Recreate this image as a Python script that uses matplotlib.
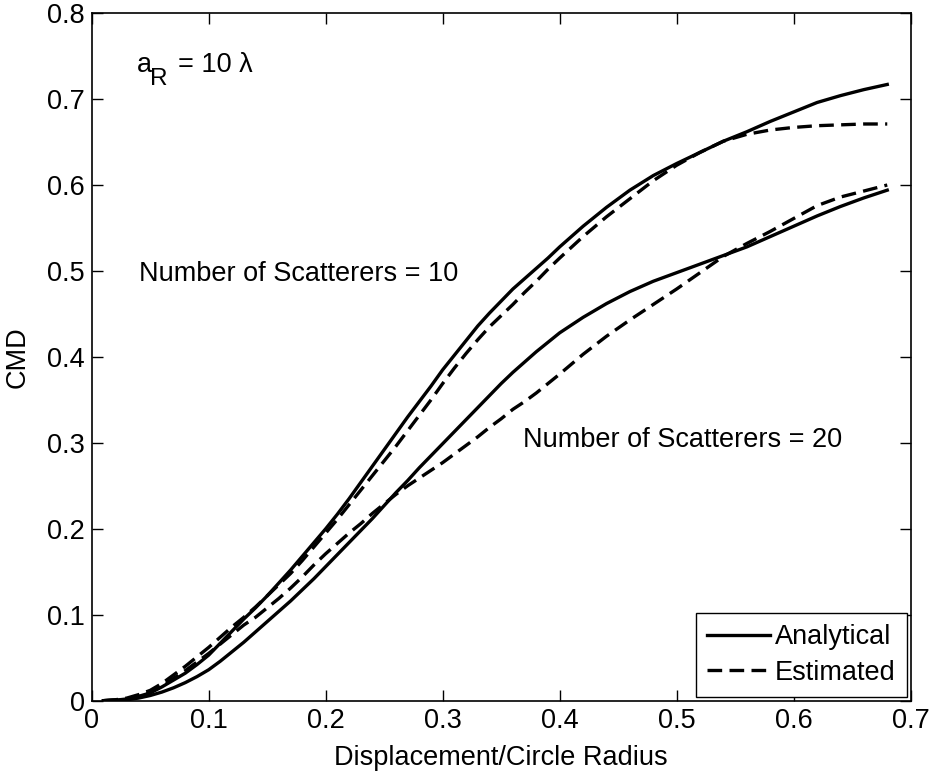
import numpy as np
import matplotlib
matplotlib.use("Agg")
import matplotlib.pyplot as plt

plt.rcParams['font.family'] = ['Liberation Sans', 'DejaVu Sans']

# values
x_grid = [0.01, 0.02, 0.03, 0.04, 0.05, 0.06, 0.07, 0.08, 0.09, 0.10,
          0.11, 0.12, 0.13, 0.14, 0.15, 0.16, 0.17, 0.18, 0.19, 0.20,
          0.21, 0.22, 0.23, 0.24, 0.25, 0.26, 0.27, 0.28, 0.29, 0.30,
          0.31, 0.32, 0.33, 0.34, 0.35, 0.36, 0.37, 0.38, 0.39, 0.40,
          0.42, 0.44, 0.46, 0.48, 0.50, 0.52, 0.54, 0.56, 0.58, 0.60,
          0.62, 0.64, 0.66, 0.68]

# analytical, 10 scatterers
y_a10 = [0.0, 0.0005, 0.002, 0.005, 0.009, 0.016, 0.024, 0.032, 0.042, 0.053,
         0.067, 0.081, 0.095, 0.108, 0.122, 0.137, 0.152, 0.168, 0.184, 0.200,
         0.217, 0.235, 0.254, 0.273, 0.292, 0.311, 0.330, 0.348, 0.366, 0.385,
         0.402, 0.419, 0.436, 0.451, 0.465, 0.479, 0.491, 0.503, 0.515, 0.528,
         0.552, 0.574, 0.594, 0.611, 0.625, 0.638, 0.651, 0.662, 0.674, 0.685,
         0.696, 0.704, 0.711, 0.717]

# estimated, 10 scatterers
y_e10 = [0.0, 0.001, 0.003, 0.007, 0.012, 0.020, 0.030, 0.040, 0.051, 0.062,
         0.074, 0.086, 0.097, 0.109, 0.122, 0.135, 0.148, 0.163, 0.179, 0.195,
         0.211, 0.228, 0.245, 0.262, 0.279, 0.296, 0.314, 0.332, 0.350, 0.369,
         0.387, 0.404, 0.420, 0.435, 0.448, 0.461, 0.475, 0.488, 0.502, 0.515,
         0.540, 0.563, 0.584, 0.605, 0.623, 0.638, 0.651, 0.659, 0.664, 0.667,
         0.669, 0.670, 0.671, 0.671]

# analytical, 20 scatterers
y_a20 = [0.0, 0.0003, 0.001, 0.003, 0.006, 0.010, 0.015, 0.021, 0.028, 0.036,
         0.046, 0.057, 0.068, 0.080, 0.092, 0.104, 0.116, 0.129, 0.142, 0.156,
         0.170, 0.184, 0.198, 0.212, 0.227, 0.242, 0.256, 0.271, 0.285, 0.299,
         0.313, 0.327, 0.341, 0.355, 0.369, 0.382, 0.394, 0.406, 0.417, 0.428,
         0.446, 0.462, 0.476, 0.488, 0.498, 0.508, 0.518, 0.528, 0.540, 0.552,
         0.564, 0.575, 0.585, 0.594]

# estimated, 20 scatterers
y_e20 = [0.0, 0.0008, 0.002, 0.005, 0.010, 0.017, 0.026, 0.035, 0.045, 0.055,
         0.066, 0.077, 0.088, 0.097, 0.108, 0.119, 0.131, 0.144, 0.158, 0.171,
         0.183, 0.195, 0.206, 0.218, 0.229, 0.240, 0.250, 0.259, 0.268, 0.277,
         0.287, 0.297, 0.307, 0.318, 0.328, 0.339, 0.348, 0.358, 0.369, 0.380,
         0.403, 0.424, 0.443, 0.461, 0.479, 0.498, 0.517, 0.532, 0.546, 0.561,
         0.576, 0.586, 0.593, 0.600]

fig = plt.figure(figsize=(9.34, 7.72), dpi=100)
ax = fig.add_axes([0.0982, 0.0924, 0.8768, 0.8906])

lw = 2.4
dash = (0, (4.4, 2.2))
ax.plot(x_grid, y_a10, color='k', lw=lw, label='Analytical')
ax.plot(x_grid, y_e10, color='k', lw=lw, linestyle=dash, label='Estimated')
ax.plot(x_grid, y_a20, color='k', lw=lw)
ax.plot(x_grid, y_e20, color='k', lw=lw, linestyle=dash)

ax.set_xlim(0, 0.7)
ax.set_ylim(0, 0.8)
ax.set_xticks(np.arange(0, 0.71, 0.1))
ax.set_yticks(np.arange(0, 0.81, 0.1))
ax.set_xticklabels(['0', '0.1', '0.2', '0.3', '0.4', '0.5', '0.6', '0.7'])
ax.set_yticklabels(['0', '0.1', '0.2', '0.3', '0.4', '0.5', '0.6', '0.7', '0.8'])
fs = 19.5
ax.tick_params(direction='in', length=8, width=1, labelsize=fs,
               top=True, right=True, pad=5)
for s in ax.spines.values():
    s.set_linewidth(1.2)

ax.set_xlabel('Displacement/Circle Radius', fontsize=fs, labelpad=8)
ax.set_ylabel('CMD', fontsize=fs, labelpad=12)

# a_R label: subscript drawn as its own text, lower and nearly full size
ax.text(0.039, 0.740, 'a', fontsize=fs, va='center')
ax.text(0.0495, 0.723, 'R', fontsize=fs * 0.9, va='center')
ax.text(0.0735, 0.740, '= 10 \u03bb', fontsize=fs, va='center')
ax.text(0.040, 0.497, 'Number of Scatterers = 10', fontsize=fs, va='center')
ax.text(0.369, 0.303, 'Number of Scatterers = 20', fontsize=fs, va='center')

leg = ax.legend(loc='lower right', fontsize=fs, frameon=True, fancybox=False,
                edgecolor='k', framealpha=1, handlelength=2.3, handletextpad=0.2,
                borderpad=0.4, labelspacing=0.35, borderaxespad=0.15)
leg.get_frame().set_linewidth(1.0)

fig.savefig('out.png', dpi=100)
